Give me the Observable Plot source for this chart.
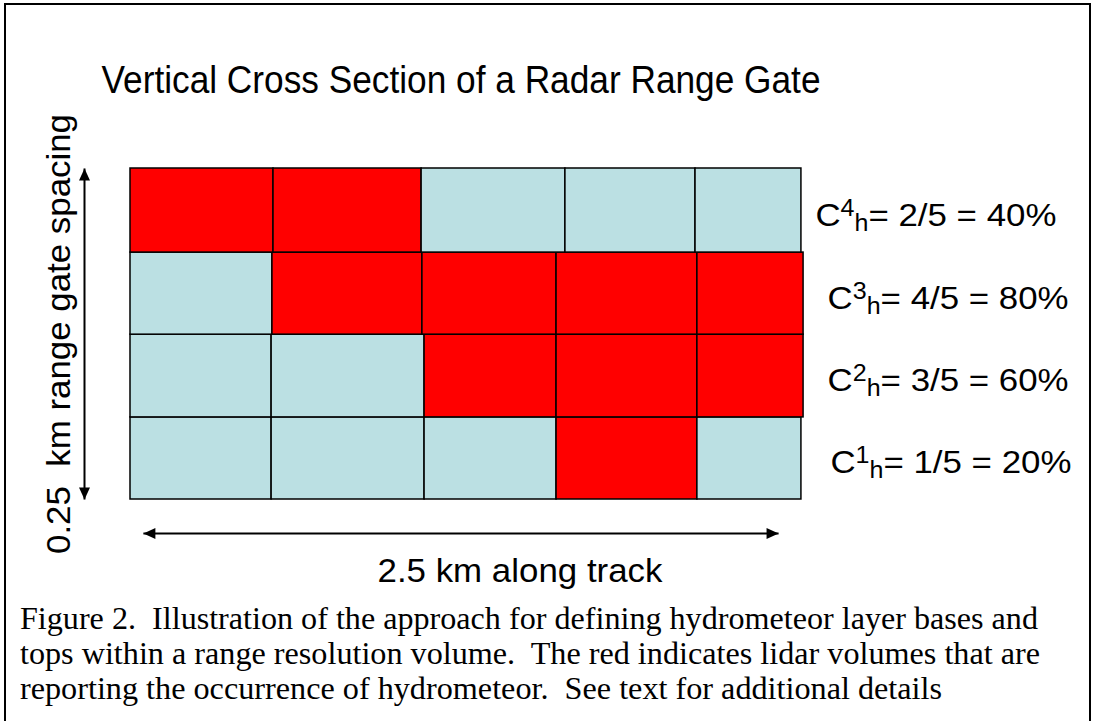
<!DOCTYPE html>
<html>
<head>
<meta charset="utf-8">
<script src="https://cdn.jsdelivr.net/npm/d3@7"></script>
<script src="https://cdn.jsdelivr.net/npm/@observablehq/plot@0.6"></script>
<style>
html, body { margin: 0; padding: 0; background: #fff; overflow: hidden; width: 1094px; height: 721px; }
#chart { position: absolute; left: 0; top: 0; }
#frame { position: absolute; left: 4px; top: 3px; width: 1087px; height: 800px; border: 2px solid #000; box-sizing: border-box; pointer-events: none; }
#caption { position: absolute; left: 20px; top: 601px; font-family: "Liberation Serif", "Times New Roman", serif; font-size: 32px; line-height: 35px; color: #000; }
#caption .ln { white-space: nowrap; transform-origin: 0 50%; }
#caption .ln span { display: inline-block; }
</style>
</head>
<body>
<div id="chart"></div>
<div id="caption">
  <div class="ln"><span>Figure 2.&nbsp; Illustration of the approach for defining hydrometeor layer bases and</span></div>
  <div class="ln"><span>tops within a range resolution volume.&nbsp; The red indicates lidar volumes that are</span></div>
  <div class="ln"><span>reporting the occurrence of hydrometeor.&nbsp; See text for additional details</span></div>
</div>
<div id="frame"></div>
<script>
// ---- data (km) ----
const titleText = "Vertical Cross Section of a Radar Range Gate";
const gateLabel = "0.25  km range gate spacing";
const trackLabel = "2.5 km along track";
const gates = [1, 2, 3, 4];                       // lidar bins, bottom to top
const gateEdgesKm = [0, 0.062, 0.1245, 0.1865, 0.25];
const gate1Edges = [0, 0.525, 1.094, 1.585, 2.109, 2.496];
const gate2Edges = [0, 0.525, 1.094, 1.585, 2.109, 2.504];
const gate3Edges = [0, 0.528, 1.086, 1.585, 2.109, 2.504];
const gate4Edges = [0, 0.532, 1.083, 1.618, 2.102, 2.496];
const gate1Hits = [0, 0, 0, 1, 0];
const gate2Hits = [0, 0, 1, 1, 1];
const gate3Hits = [0, 1, 1, 1, 1];
const gate4Hits = [1, 1, 0, 0, 0];
const trackArrowKm = [0.048, 2.411];
const gateArrowKm = [0, 0.25];

const edgesByGate = {1: gate1Edges, 2: gate2Edges, 3: gate3Edges, 4: gate4Edges};
const hitsByGate = {1: gate1Hits, 2: gate2Hits, 3: gate3Hits, 4: gate4Hits};

const cells = [];
const rows = [];
for (const g of gates) {
  const e = edgesByGate[g], h = hitsByGate[g];
  for (let i = 0; i < h.length; i++) {
    cells.push({gate: g, x1: e[i], x2: e[i + 1], y1: gateEdgesKm[g - 1], y2: gateEdgesKm[g], hit: h[i]});
  }
  const hits = d3.sum(h);
  rows.push({gate: g, hits, n: h.length, pct: Math.round(100 * hits / h.length),
             y: (gateEdgesKm[g - 1] + gateEdgesKm[g]) / 2, right: e[e.length - 1]});
}

// arrow-head symbols (tip at the point)
const headUp = {draw(c) { c.moveTo(0, 0); c.lineTo(-5.5, 12); c.lineTo(5.5, 12); c.closePath(); }};
const headDown = {draw(c) { c.moveTo(0, 0); c.lineTo(-5.5, -12); c.lineTo(5.5, -12); c.closePath(); }};
const headLeft = {draw(c) { c.moveTo(0, 0); c.lineTo(12, -5.5); c.lineTo(12, 5.5); c.closePath(); }};
const headRight = {draw(c) { c.moveTo(0, 0); c.lineTo(-12, -5.5); c.lineTo(-12, 5.5); c.closePath(); }};

const pxPerKm = 672 / 2.5;
const labelShiftPx = {4: 14, 3: 24, 2: 24, 1: 29};

const chart = Plot.plot({
  width: 1094,
  height: 600,
  margin: 0,
  x: {domain: [0, 2.5], range: [130, 802], axis: null},
  y: {domain: [0, 0.25], range: [499, 168], axis: null},
  color: {type: "ordinal", domain: [0, 1], range: ["#bbe0e3", "#ff0000"]},
  style: {fontFamily: '"Liberation Sans", Arial, sans-serif', background: "transparent", color: "#000"},
  marks: [
    Plot.rect(cells, {x1: "x1", x2: "x2", y1: "y1", y2: "y2", fill: "hit", stroke: "#000", strokeWidth: 1.5}),
    // vertical (gate spacing) arrow
    Plot.link([gateArrowKm], {x1: 0, x2: 0, y1: d => d[0], y2: d => d[1], dx: -46, stroke: "#000", strokeWidth: 2}),
    Plot.dot([gateArrowKm], {x: 0, y: d => d[1], dx: -46, symbol: headUp, r: 6, fill: "#000", stroke: null}),
    Plot.dot([gateArrowKm], {x: 0, y: d => d[0], dx: -46, symbol: headDown, r: 6, fill: "#000", stroke: null}),
    // horizontal (along track) arrow
    Plot.link([trackArrowKm], {x1: d => d[0], x2: d => d[1], y1: 0, y2: 0, dy: 34, stroke: "#000", strokeWidth: 2}),
    Plot.dot([trackArrowKm], {x: d => d[0], y: 0, dy: 34, symbol: headLeft, r: 6, fill: "#000", stroke: null}),
    Plot.dot([trackArrowKm], {x: d => d[1], y: 0, dy: 34, symbol: headRight, r: 6, fill: "#000", stroke: null}),
    // labels
    Plot.text([titleText], {frameAnchor: "top-left", text: d => d, dx: 101, dy: 92, textAnchor: "start", lineAnchor: "bottom", fontSize: 38, fill: "#000"}),
    Plot.text([gateLabel], {x: 0, y: (gateArrowKm[0] + gateArrowKm[1]) / 2, text: d => d, dx: -61, dy: 0, rotate: -90, textAnchor: "middle", lineAnchor: "bottom", fontSize: 33, fill: "#000"}),
    Plot.text([trackLabel], {x: (trackArrowKm[0] + trackArrowKm[1]) / 2, y: 0, text: d => d, dx: 59, dy: 82, textAnchor: "middle", lineAnchor: "bottom", fontSize: 33, fill: "#000"}),
    Plot.text(rows, {x: d => d.right + labelShiftPx[d.gate] / pxPerKm, y: "y", text: d => `C${d.gate}h= ${d.hits}/${d.n} = ${d.pct}%`, dy: 15, textAnchor: "start", lineAnchor: "bottom", fontSize: 32, fill: "#000"})
  ]
});
document.getElementById("chart").appendChild(chart);

// text fitting (find texts by content)
const NS = "http://www.w3.org/2000/svg";
const texts = Array.from(chart.querySelectorAll("text"));
function fitText(t, len) {
  t.setAttribute("textLength", len);
  t.setAttribute("lengthAdjust", "spacingAndGlyphs");
}
texts.forEach(t => {
  const s = t.textContent;
  if (s === titleText) fitText(t, 719);
  else if (s === gateLabel) fitText(t, 440);
  else if (s === trackLabel) fitText(t, 285);
  else {
    const m = s.match(/^C(\d)h(=.*)$/);
    if (!m) return;
    t.textContent = "";
    const add = (str, attrs) => {
      const ts = document.createElementNS(NS, "tspan");
      for (const k in attrs) ts.setAttribute(k, attrs[k]);
      ts.textContent = str;
      t.appendChild(ts);
    };
    add("C", {});
    add(m[1], {dy: -10, "font-size": 23});
    add("h", {dy: 15, "font-size": 23});
    add(m[2], {dy: -5});
    fitText(t, 241);
  }
});

// caption line fitting
const targets = [1018, 1020, 922];
document.querySelectorAll("#caption .ln").forEach((ln, i) => {
  const w = ln.querySelector("span").getBoundingClientRect().width;
  ln.style.transform = `scaleX(${targets[i] / w})`;
});
</script>
</body>
</html>
